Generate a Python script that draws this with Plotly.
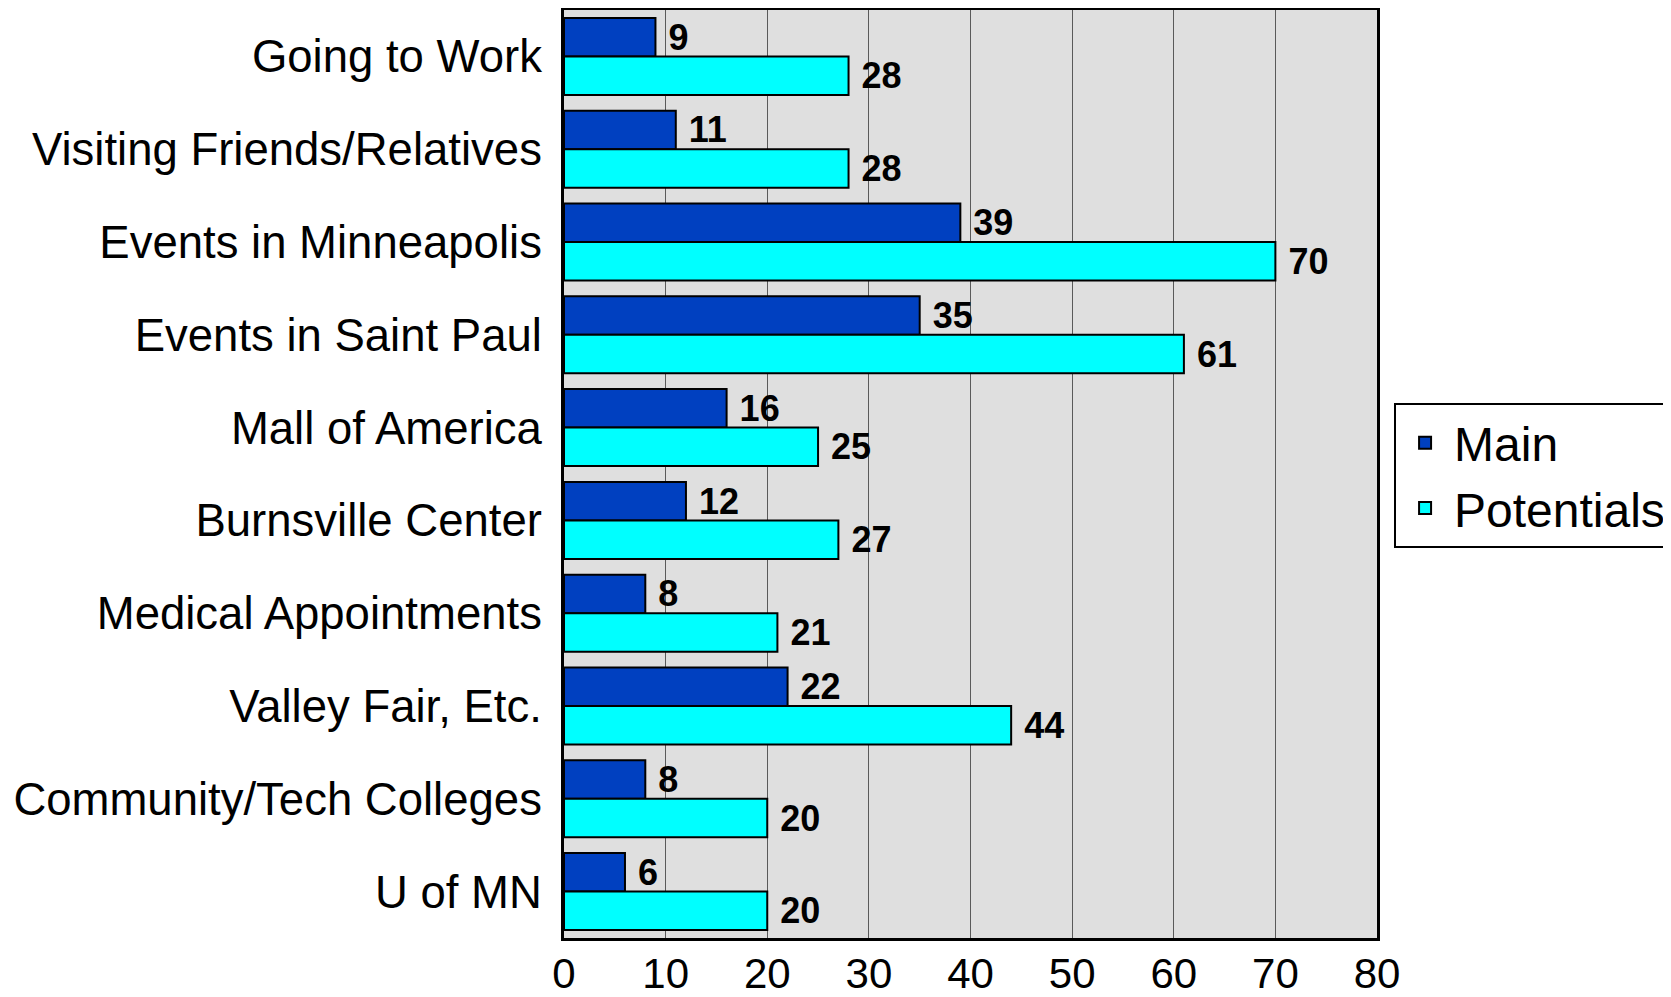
import plotly.graph_objects as go

categories = ["Going to Work", "Visiting Friends/Relatives", "Events in Minneapolis",
              "Events in Saint Paul", "Mall of America", "Burnsville Center",
              "Medical Appointments", "Valley Fair, Etc.", "Community/Tech Colleges",
              "U of MN"]
main_vals = [9, 11, 39, 35, 16, 12, 8, 22, 8, 6]
potential_vals = [28, 28, 70, 61, 25, 27, 21, 44, 20, 20]
x_ticks = [0, 10, 20, 30, 40, 50, 60, 70, 80]

FONT = "Liberation Sans, Arial, sans-serif"

fig = go.Figure()
fig.add_trace(go.Bar(
    name="Main", y=categories, x=main_vals, orientation="h",
    marker=dict(color="rgb(0,64,192)", line=dict(color="black", width=2)),
    text=[" " + str(v) for v in main_vals], textposition="outside",
    textfont=dict(family=FONT, size=36, color="black", weight="bold"),
    cliponaxis=False, constraintext="none",
))
fig.add_trace(go.Bar(
    name="Potentials", y=categories, x=potential_vals, orientation="h",
    marker=dict(color="rgb(0,255,255)", line=dict(color="black", width=2)),
    text=[" " + str(v) for v in potential_vals], textposition="outside",
    textfont=dict(family=FONT, size=36, color="black", weight="bold"),
    cliponaxis=False, constraintext="none",
))

fig.update_layout(
    width=1663, height=989,
    barmode="group", bargap=0.17, bargroupgap=0,
    paper_bgcolor="white", plot_bgcolor="rgb(223,223,223)",
    margin=dict(l=556, r=294, t=2, b=59, autoexpand=False),
    font=dict(family=FONT, color="black"),
    showlegend=True,
    legend=dict(
        x=1.021, y=0.5765, xanchor="left", yanchor="top",
        bgcolor="white", bordercolor="black", borderwidth=2,
        font=dict(family=FONT, size=48, color="black"),
        traceorder="normal", itemwidth=48,
    ),
    xaxis=dict(
        range=[0, 80], tickvals=x_ticks, ticktext=[str(t) for t in x_ticks],
        showgrid=True, gridcolor="rgb(90,90,90)", gridwidth=1,
        showline=True, linecolor="black", linewidth=3, mirror=True,
        ticks="", tickfont=dict(family=FONT, size=42, color="black"),
        ticklabelstandoff=-3, zeroline=False, automargin=False,
    ),
    yaxis=dict(
        autorange="reversed", showgrid=False,
        showline=True, linecolor="black", linewidth=3, mirror=True,
        ticks="", tickfont=dict(family=FONT, size=45.5, color="black"),
        ticklabelstandoff=10, automargin=False,
    ),
)

fig.write_html("out.html")
